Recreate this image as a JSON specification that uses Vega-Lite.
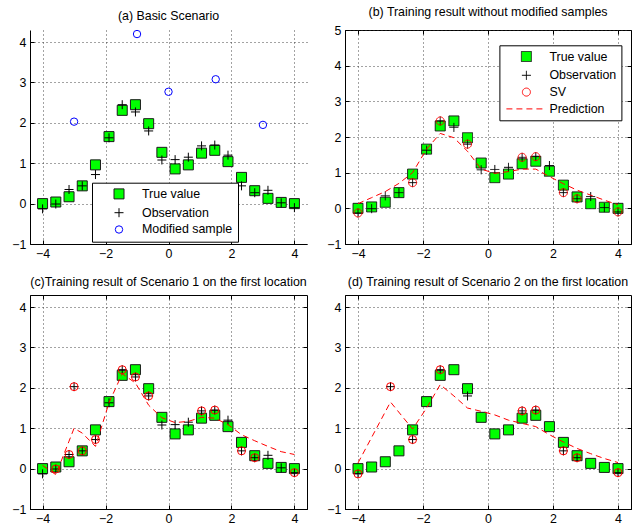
{
  "$schema": "https://vega.github.io/schema/vega-lite/v6.json",
  "background": "white",
  "padding": {"left": 11, "top": 5, "right": 2, "bottom": 2},
  "columns": 2,
  "spacing": {"row": 51, "column": 38},
  "bounds": "flush",
  "datasets": {
    "pts_a": [
      {"x":-4,"y":0.0,"series":"True value"},{"x":-3.58,"y":0.04,"series":"True value"},{"x":-3.16,"y":0.17,"series":"True value"},{"x":-2.74,"y":0.44,"series":"True value"},{"x":-2.32,"y":0.96,"series":"True value"},{"x":-1.89,"y":1.66,"series":"True value"},{"x":-1.47,"y":2.31,"series":"True value"},{"x":-1.05,"y":2.45,"series":"True value"},{"x":-0.63,"y":1.98,"series":"True value"},{"x":-0.21,"y":1.27,"series":"True value"},{"x":0.21,"y":0.86,"series":"True value"},{"x":0.63,"y":0.96,"series":"True value"},{"x":1.05,"y":1.25,"series":"True value"},{"x":1.47,"y":1.32,"series":"True value"},{"x":1.89,"y":1.04,"series":"True value"},{"x":2.32,"y":0.65,"series":"True value"},{"x":2.74,"y":0.32,"series":"True value"},{"x":3.16,"y":0.13,"series":"True value"},{"x":3.58,"y":0.03,"series":"True value"},{"x":4,"y":0.0,"series":"True value"},
      {"x":-4,"y":-0.13,"series":"Observation"},{"x":-3.58,"y":-0.01,"series":"Observation"},{"x":-3.16,"y":0.35,"series":"Observation"},{"x":-2.74,"y":0.44,"series":"Observation"},{"x":-2.32,"y":0.72,"series":"Observation"},{"x":-1.89,"y":1.63,"series":"Observation"},{"x":-1.47,"y":2.45,"series":"Observation"},{"x":-1.05,"y":2.27,"series":"Observation"},{"x":-0.63,"y":1.80,"series":"Observation"},{"x":-0.21,"y":1.08,"series":"Observation"},{"x":0.21,"y":1.09,"series":"Observation"},{"x":0.63,"y":1.15,"series":"Observation"},{"x":1.05,"y":1.43,"series":"Observation"},{"x":1.47,"y":1.45,"series":"Observation"},{"x":1.89,"y":1.20,"series":"Observation"},{"x":2.32,"y":0.44,"series":"Observation"},{"x":2.74,"y":0.27,"series":"Observation"},{"x":3.16,"y":0.33,"series":"Observation"},{"x":3.58,"y":0.02,"series":"Observation"},{"x":4,"y":-0.10,"series":"Observation"},
      {"x":-3,"y":2.03,"series":"Modified sample"},{"x":-1,"y":4.2,"series":"Modified sample"},{"x":0,"y":2.77,"series":"Modified sample"},{"x":1.5,"y":3.08,"series":"Modified sample"},{"x":3,"y":1.95,"series":"Modified sample"}
    ],
    "pts_b": [
      {"x":-4,"y":0.0,"series":"True value"},{"x":-3.58,"y":0.04,"series":"True value"},{"x":-3.16,"y":0.17,"series":"True value"},{"x":-2.74,"y":0.44,"series":"True value"},{"x":-2.32,"y":0.96,"series":"True value"},{"x":-1.89,"y":1.66,"series":"True value"},{"x":-1.47,"y":2.31,"series":"True value"},{"x":-1.05,"y":2.45,"series":"True value"},{"x":-0.63,"y":1.98,"series":"True value"},{"x":-0.21,"y":1.27,"series":"True value"},{"x":0.21,"y":0.86,"series":"True value"},{"x":0.63,"y":0.96,"series":"True value"},{"x":1.05,"y":1.25,"series":"True value"},{"x":1.47,"y":1.32,"series":"True value"},{"x":1.89,"y":1.04,"series":"True value"},{"x":2.32,"y":0.65,"series":"True value"},{"x":2.74,"y":0.32,"series":"True value"},{"x":3.16,"y":0.13,"series":"True value"},{"x":3.58,"y":0.03,"series":"True value"},{"x":4,"y":0.0,"series":"True value"},
      {"x":-4,"y":-0.13,"series":"Observation"},{"x":-3.58,"y":-0.01,"series":"Observation"},{"x":-3.16,"y":0.35,"series":"Observation"},{"x":-2.74,"y":0.44,"series":"Observation"},{"x":-2.32,"y":0.72,"series":"Observation"},{"x":-1.89,"y":1.63,"series":"Observation"},{"x":-1.47,"y":2.45,"series":"Observation"},{"x":-1.05,"y":2.27,"series":"Observation"},{"x":-0.63,"y":1.80,"series":"Observation"},{"x":-0.21,"y":1.08,"series":"Observation"},{"x":0.21,"y":1.09,"series":"Observation"},{"x":0.63,"y":1.15,"series":"Observation"},{"x":1.05,"y":1.43,"series":"Observation"},{"x":1.47,"y":1.45,"series":"Observation"},{"x":1.89,"y":1.20,"series":"Observation"},{"x":2.32,"y":0.44,"series":"Observation"},{"x":2.74,"y":0.27,"series":"Observation"},{"x":3.16,"y":0.33,"series":"Observation"},{"x":3.58,"y":0.02,"series":"Observation"},{"x":4,"y":-0.10,"series":"Observation"},
      {"x":-4,"y":-0.13,"series":"SV"},{"x":-2.32,"y":0.72,"series":"SV"},{"x":-1.47,"y":2.45,"series":"SV"},{"x":-0.63,"y":1.80,"series":"SV"},{"x":1.05,"y":1.43,"series":"SV"},{"x":1.47,"y":1.45,"series":"SV"},{"x":2.32,"y":0.44,"series":"SV"},{"x":2.74,"y":0.27,"series":"SV"},{"x":4,"y":-0.10,"series":"SV"}
    ],
    "truth": [{"x":-4,"y":0.0},{"x":-3.58,"y":0.04},{"x":-3.16,"y":0.17},{"x":-2.74,"y":0.44},{"x":-2.32,"y":0.96},{"x":-1.89,"y":1.66},{"x":-1.47,"y":2.31},{"x":-1.05,"y":2.45},{"x":-0.63,"y":1.98},{"x":-0.21,"y":1.27},{"x":0.21,"y":0.86},{"x":0.63,"y":0.96},{"x":1.05,"y":1.25},{"x":1.47,"y":1.32},{"x":1.89,"y":1.04},{"x":2.32,"y":0.65},{"x":2.74,"y":0.32},{"x":3.16,"y":0.13},{"x":3.58,"y":0.03},{"x":4,"y":0.0}],
    "pred_b": [{"x":-4,"y":0.13},{"x":-3.58,"y":0.30},{"x":-3.16,"y":0.47},{"x":-2.74,"y":0.70},{"x":-2.32,"y":1.0},{"x":-1.89,"y":1.66},{"x":-1.47,"y":2.1},{"x":-1.05,"y":1.98},{"x":-0.63,"y":1.6},{"x":-0.21,"y":1.1},{"x":0.21,"y":0.98},{"x":0.63,"y":1.03},{"x":1.05,"y":1.1},{"x":1.47,"y":1.1},{"x":1.89,"y":0.89},{"x":2.32,"y":0.69},{"x":2.74,"y":0.51},{"x":3.16,"y":0.37},{"x":3.58,"y":0.23},{"x":4,"y":0.1}],
    "obs_c": [{"x":-4,"y":-0.13},{"x":-3.58,"y":-0.01},{"x":-3.16,"y":0.35},{"x":-3,"y":2.03},{"x":-2.74,"y":0.44},{"x":-2.32,"y":0.72},{"x":-1.89,"y":1.63},{"x":-1.47,"y":2.45},{"x":-1.05,"y":2.27},{"x":-0.63,"y":1.80},{"x":-0.21,"y":1.08},{"x":0.21,"y":1.09},{"x":0.63,"y":1.15},{"x":1.05,"y":1.43},{"x":1.47,"y":1.45},{"x":1.89,"y":1.20},{"x":2.32,"y":0.44},{"x":2.74,"y":0.27},{"x":3.16,"y":0.33},{"x":3.58,"y":0.02},{"x":4,"y":-0.10}],
    "sv_c": [{"x":-3.58,"y":-0.01},{"x":-3.16,"y":0.35},{"x":-3,"y":2.03},{"x":-2.74,"y":0.44},{"x":-2.32,"y":0.72},{"x":-1.47,"y":2.45},{"x":-1.05,"y":2.27},{"x":-0.63,"y":1.80},{"x":1.05,"y":1.43},{"x":1.47,"y":1.45},{"x":2.32,"y":0.44},{"x":2.74,"y":0.27},{"x":4,"y":-0.10}],
    "pred_c": [{"x":-4,"y":0.08},{"x":-3.58,"y":-0.15},{"x":-3.16,"y":0.68},{"x":-3,"y":1.0},{"x":-2.74,"y":0.88},{"x":-2.32,"y":0.55},{"x":-1.89,"y":1.63},{"x":-1.47,"y":2.35},{"x":-1.05,"y":2.12},{"x":-0.63,"y":1.57},{"x":-0.21,"y":1.26},{"x":0.21,"y":1.14},{"x":0.63,"y":1.17},{"x":1.05,"y":1.27},{"x":1.47,"y":1.25},{"x":1.89,"y":1.09},{"x":2.32,"y":0.84},{"x":2.74,"y":0.69},{"x":3.16,"y":0.55},{"x":3.58,"y":0.42},{"x":4,"y":0.35}],
    "obs_d": [{"x":-4,"y":-0.13},{"x":-3,"y":2.03},{"x":-2.32,"y":0.72},{"x":-1.47,"y":2.45},{"x":-0.63,"y":1.80},{"x":1.05,"y":1.43},{"x":1.47,"y":1.45},{"x":2.32,"y":0.44},{"x":2.74,"y":0.27},{"x":4,"y":-0.10}],
    "sv_d": [{"x":-4,"y":-0.13},{"x":-3,"y":2.03},{"x":-2.32,"y":0.72},{"x":-1.47,"y":2.45},{"x":1.05,"y":1.43},{"x":1.47,"y":1.45},{"x":2.32,"y":0.44},{"x":2.74,"y":0.27},{"x":4,"y":-0.10}],
    "pred_d": [{"x":-4,"y":0.14},{"x":-3,"y":1.65},{"x":-2.32,"y":0.98},{"x":-1.89,"y":1.5},{"x":-1.47,"y":2.08},{"x":-1.05,"y":1.8},{"x":-0.63,"y":1.5},{"x":-0.21,"y":1.42},{"x":0.21,"y":1.33},{"x":0.63,"y":1.2},{"x":1.05,"y":1.12},{"x":1.47,"y":1.04},{"x":1.89,"y":0.84},{"x":2.32,"y":0.66},{"x":2.74,"y":0.5},{"x":3.16,"y":0.37},{"x":3.58,"y":0.25},{"x":4,"y":0.15}]
  },
  "concat": [
    {
      "title": "(a) Basic Scenario",
      "width": 277, "height": 214,
      "view": {"stroke": null},
      "data": {"name": "pts_a"},
      "mark": {"type": "point", "opacity": 1, "filled": true, "strokeWidth": 1},
      "encoding": {
        "x": {"field": "x", "type": "quantitative", "scale": {"domain": [-4.4, 4.4], "nice": false, "zero": false}, "axis": {"values": [-4, -2, 0, 2, 4], "title": null}},
        "y": {"field": "y", "type": "quantitative", "scale": {"domain": [-1, 4.3], "nice": false, "zero": false}, "axis": {"values": [-1, 0, 1, 2, 3, 4], "title": null}},
        "shape": {"field": "series", "type": "nominal", "scale": {"domain": ["True value", "Observation", "Modified sample"], "range": ["square", "M-1,0H1M0,-1V1", "circle"]}, "legend": {"title": null, "orient": "none", "legendX": 62, "legendY": 152.7, "encode": {"legend": {"update": {"strokeWidth": {"value": 2}}}}}},
        "fill": {"field": "series", "type": "nominal", "scale": {"domain": ["True value", "Observation", "Modified sample"], "range": ["#00ff00", "transparent", "transparent"]}, "legend": {"title": null, "orient": "none", "legendX": 62, "legendY": 152.7}},
        "stroke": {"field": "series", "type": "nominal", "scale": {"domain": ["True value", "Observation", "Modified sample"], "range": ["#1a1a1a", "#000000", "#0000ff"]}, "legend": {"title": null, "orient": "none", "legendX": 62, "legendY": 152.7}},
        "size": {"field": "series", "type": "nominal", "scale": {"type": "ordinal", "domain": ["True value", "Observation", "Modified sample"], "range": [100, 81, 55]}, "legend": {"title": null, "orient": "none", "legendX": 62, "legendY": 152.7}}
      }
    },
    {
      "title": "(b) Training result without modified samples",
      "width": 286, "height": 214,
      "resolve": {"axis": {"x": "independent", "y": "independent"}},
      "layer": [
        {
          "data": {"name": "pts_b"},
          "mark": {"type": "point", "opacity": 1, "filled": true, "strokeWidth": 1},
          "encoding": {
            "x": {"field": "x", "type": "quantitative", "scale": {"domain": [-4.4, 4.4], "nice": false, "zero": false}, "axis": {"values": [-4, -2, 0, 2, 4], "title": null}},
            "y": {"field": "y", "type": "quantitative", "scale": {"domain": [-1, 5], "nice": false, "zero": false}, "axis": {"values": [-1, 0, 1, 2, 3, 4, 5], "title": null}},
            "shape": {"field": "series", "type": "nominal", "scale": {"domain": ["True value", "Observation", "SV", "Prediction"], "range": ["square", "M-1,0H1M0,-1V1", "circle", "M-4,0H4"]}, "legend": {"title": null, "orient": "none", "legendX": 154.4, "legendY": 15.3, "encode": {"legend": {"update": {"strokeWidth": {"value": 1.5}}}}}},
            "fill": {"field": "series", "type": "nominal", "scale": {"domain": ["True value", "Observation", "SV", "Prediction"], "range": ["#00ff00", "transparent", "transparent", "transparent"]}, "legend": {"title": null, "orient": "none", "legendX": 154.4, "legendY": 15.3}},
            "stroke": {"field": "series", "type": "nominal", "scale": {"domain": ["True value", "Observation", "SV", "Prediction"], "range": ["#1a1a1a", "#000000", "#ff0000", "#ff0000"]}, "legend": {"title": null, "orient": "none", "legendX": 154.4, "legendY": 15.3}},
            "size": {"field": "series", "type": "nominal", "scale": {"type": "ordinal", "domain": ["True value", "Observation", "SV", "Prediction"], "range": [100, 81, 64, 100]}, "legend": {"title": null, "orient": "none", "legendX": 154.4, "legendY": 15.3}},
            "strokeDash": {"field": "series", "type": "nominal", "scale": {"type": "ordinal", "domain": ["True value", "Observation", "SV", "Prediction"], "range": [[1, 0], [1, 0], [1, 0], [6, 4]]}, "legend": {"title": null, "orient": "none", "legendX": 154.4, "legendY": 15.3}}
          }
        },
        {
          "data": {"name": "pred_b"},
          "mark": {"type": "line", "stroke": "#ff0000", "strokeWidth": 1, "strokeDash": [6, 4]},
          "encoding": {
            "x": {"field": "x", "type": "quantitative", "scale": {"domain": [-4.4, 4.4], "nice": false, "zero": false}, "axis": {"values": [-4, -2, 0, 2, 4], "title": null, "orient": "top", "labels": false, "grid": false, "domain": false}},
            "y": {"field": "y", "type": "quantitative", "scale": {"domain": [-1, 5], "nice": false, "zero": false}, "axis": {"values": [-1, 0, 1, 2, 3, 4, 5], "title": null, "orient": "right", "labels": false, "grid": false, "domain": false}}
          }
        }
      ]
    },
    {
      "title": "(c)Training result of Scenario 1 on the first location",
      "width": 277, "height": 214,
      "resolve": {"axis": {"x": "independent", "y": "independent"}},
      "layer": [
        {
          "data": {"name": "truth"},
          "mark": {"type": "point", "shape": "square", "filled": true, "fill": "#00ff00", "stroke": "#1a1a1a", "strokeWidth": 1, "size": 100, "opacity": 1},
          "encoding": {
            "x": {"field": "x", "type": "quantitative", "scale": {"domain": [-4.4, 4.4], "nice": false, "zero": false}, "axis": {"values": [-4, -2, 0, 2, 4], "title": null}},
            "y": {"field": "y", "type": "quantitative", "scale": {"domain": [-1, 4.3], "nice": false, "zero": false}, "axis": {"values": [-1, 0, 1, 2, 3, 4], "title": null}}
          }
        },
        {
          "data": {"name": "obs_c"},
          "mark": {"type": "point", "shape": "M-1,0H1M0,-1V1", "filled": false, "stroke": "#000000", "strokeWidth": 1, "size": 81, "opacity": 1},
          "encoding": {
            "x": {"field": "x", "type": "quantitative", "scale": {"domain": [-4.4, 4.4], "nice": false, "zero": false}, "axis": null},
            "y": {"field": "y", "type": "quantitative", "scale": {"domain": [-1, 4.3], "nice": false, "zero": false}, "axis": null}
          }
        },
        {
          "data": {"name": "sv_c"},
          "mark": {"type": "point", "shape": "circle", "filled": false, "stroke": "#ff0000", "strokeWidth": 1, "size": 64, "opacity": 1},
          "encoding": {
            "x": {"field": "x", "type": "quantitative", "scale": {"domain": [-4.4, 4.4], "nice": false, "zero": false}, "axis": null},
            "y": {"field": "y", "type": "quantitative", "scale": {"domain": [-1, 4.3], "nice": false, "zero": false}, "axis": null}
          }
        },
        {
          "data": {"name": "pred_c"},
          "mark": {"type": "line", "stroke": "#ff0000", "strokeWidth": 1, "strokeDash": [6, 4]},
          "encoding": {
            "x": {"field": "x", "type": "quantitative", "scale": {"domain": [-4.4, 4.4], "nice": false, "zero": false}, "axis": {"values": [-4, -2, 0, 2, 4], "title": null, "orient": "top", "labels": false, "grid": false, "domain": false}},
            "y": {"field": "y", "type": "quantitative", "scale": {"domain": [-1, 4.3], "nice": false, "zero": false}, "axis": {"values": [-1, 0, 1, 2, 3, 4], "title": null, "orient": "right", "labels": false, "grid": false, "domain": false}}
          }
        }
      ]
    },
    {
      "title": "(d) Training result of Scenario 2 on the first location",
      "width": 286, "height": 214,
      "resolve": {"axis": {"x": "independent", "y": "independent"}},
      "layer": [
        {
          "data": {"name": "truth"},
          "mark": {"type": "point", "shape": "square", "filled": true, "fill": "#00ff00", "stroke": "#1a1a1a", "strokeWidth": 1, "size": 100, "opacity": 1},
          "encoding": {
            "x": {"field": "x", "type": "quantitative", "scale": {"domain": [-4.4, 4.4], "nice": false, "zero": false}, "axis": {"values": [-4, -2, 0, 2, 4], "title": null}},
            "y": {"field": "y", "type": "quantitative", "scale": {"domain": [-1, 4.3], "nice": false, "zero": false}, "axis": {"values": [-1, 0, 1, 2, 3, 4], "title": null}}
          }
        },
        {
          "data": {"name": "obs_d"},
          "mark": {"type": "point", "shape": "M-1,0H1M0,-1V1", "filled": false, "stroke": "#000000", "strokeWidth": 1, "size": 81, "opacity": 1},
          "encoding": {
            "x": {"field": "x", "type": "quantitative", "scale": {"domain": [-4.4, 4.4], "nice": false, "zero": false}, "axis": null},
            "y": {"field": "y", "type": "quantitative", "scale": {"domain": [-1, 4.3], "nice": false, "zero": false}, "axis": null}
          }
        },
        {
          "data": {"name": "sv_d"},
          "mark": {"type": "point", "shape": "circle", "filled": false, "stroke": "#ff0000", "strokeWidth": 1, "size": 64, "opacity": 1},
          "encoding": {
            "x": {"field": "x", "type": "quantitative", "scale": {"domain": [-4.4, 4.4], "nice": false, "zero": false}, "axis": null},
            "y": {"field": "y", "type": "quantitative", "scale": {"domain": [-1, 4.3], "nice": false, "zero": false}, "axis": null}
          }
        },
        {
          "data": {"name": "pred_d"},
          "mark": {"type": "line", "stroke": "#ff0000", "strokeWidth": 1, "strokeDash": [6, 4]},
          "encoding": {
            "x": {"field": "x", "type": "quantitative", "scale": {"domain": [-4.4, 4.4], "nice": false, "zero": false}, "axis": {"values": [-4, -2, 0, 2, 4], "title": null, "orient": "top", "labels": false, "grid": false, "domain": false}},
            "y": {"field": "y", "type": "quantitative", "scale": {"domain": [-1, 4.3], "nice": false, "zero": false}, "axis": {"values": [-1, 0, 1, 2, 3, 4], "title": null, "orient": "right", "labels": false, "grid": false, "domain": false}}
          }
        }
      ]
    }
  ],
  "resolve": {
    "scale": {"x": "independent", "y": "independent", "shape": "independent", "fill": "independent", "stroke": "independent", "size": "independent", "strokeDash": "independent"},
    "axis": {"x": "independent", "y": "independent"},
    "legend": {"shape": "independent", "fill": "independent", "stroke": "independent", "size": "independent", "strokeDash": "independent"}
  },
  "config": {
    "font": "Liberation Sans",
    "view": {"stroke": "#000000", "strokeWidth": 1},
    "axis": {
      "domainColor": "#000000", "domainWidth": 1,
      "tickColor": "#000000", "tickSize": -4, "tickWidth": 1,
      "labelColor": "#000000", "labelFont": "Liberation Sans", "labelFontSize": 12.4,
      "grid": true, "gridColor": "#333333", "gridDash": [1, 3], "gridWidth": 1, "gridOpacity": 0.9
    },
    "axisX": {"labelPadding": 7},
    "axisY": {"labelPadding": 8},
    "title": {"font": "Liberation Sans", "fontSize": 12.4, "fontWeight": "normal", "color": "#000000", "anchor": "middle", "offset": 6},
    "legend": {
      "labelFont": "Liberation Sans", "labelFontSize": 12.4, "labelColor": "#000000",
      "fillColor": "#ffffff", "strokeColor": "#000000", "padding": 5, "rowPadding": 3.8,
      "symbolOffset": 15.8, "labelOffset": 16.8, "symbolStrokeWidth": 1, "symbolOpacity": 1, "cornerRadius": 0
    }
  }
}
